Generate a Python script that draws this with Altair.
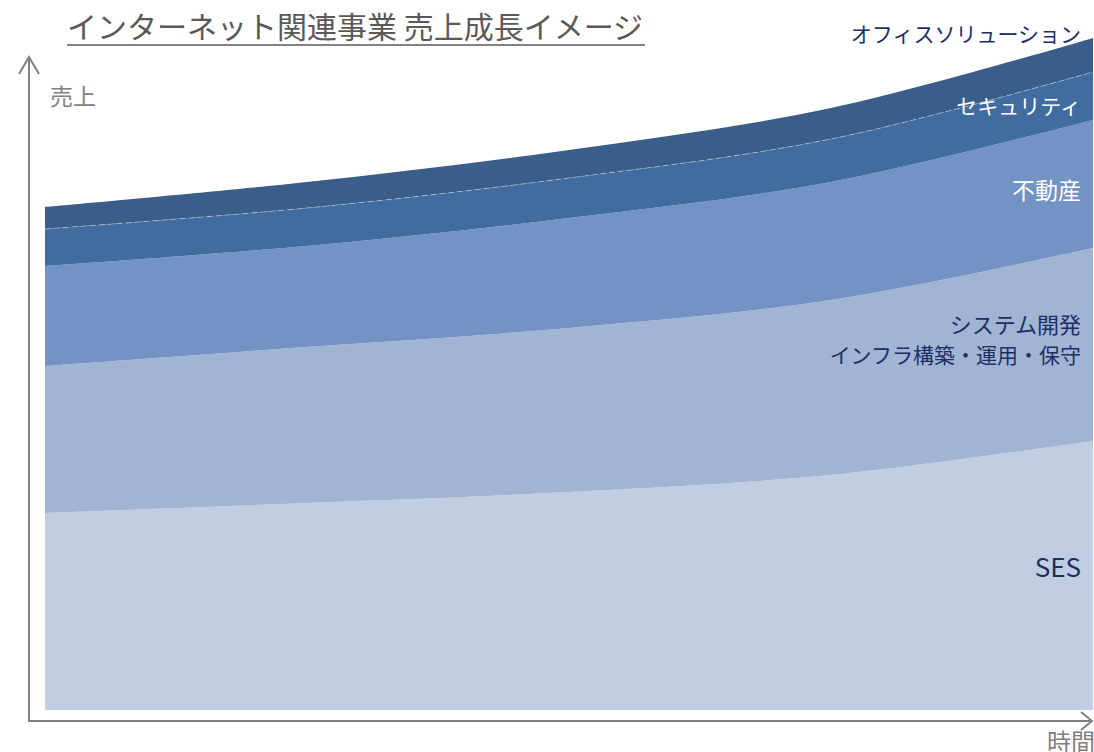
import altair as alt
import pandas as pd

# time points (equally spaced periods)
periods = [0, 1, 2, 3, 4]

# layer thickness (sales, arbitrary units) bottom -> top
segments = ["SES", "システム開発", "不動産", "セキュリティ", "オフィスソリューション"]
ses = [197, 207, 218, 235, 269]
sysdev = [147, 156, 164, 175, 193]
realestate = [100, 101, 110, 118, 128]
security = [37, 38, 40, 43, 48]
office = [22, 26, 28, 31, 34]
colors = ["#C1CDE1", "#A1B4D4", "#7393C4", "#416C9F", "#3A5D8A"]

series = [ses, sysdev, realestate, security, office]
rows = []
for k, (name, vals) in enumerate(zip(segments, series)):
    for p, v in zip(periods, vals):
        rows.append({"period": p, "segment": name, "value": v, "k": k})
df = pd.DataFrame(rows)

# boundary above security layer (faint separator)
sep = pd.DataFrame({
    "period": periods,
    "top": [a + b + c + d for a, b, c, d in zip(ses, sysdev, realestate, security)],
})

W, H = 1048, 672
xs = alt.Scale(domain=[0, 4], nice=False)
ys = alt.Scale(domain=[0, 672], nice=False)
INTERP = "catmull-rom"

area = alt.Chart(df).mark_area(interpolate=INTERP).encode(
    x=alt.X("period:Q", scale=xs, axis=None),
    y=alt.Y("value:Q", stack="zero", scale=ys, axis=None),
    color=alt.Color("segment:N", scale=alt.Scale(domain=segments, range=colors), legend=None),
    order=alt.Order("k:Q"),
)

sepline = alt.Chart(sep).mark_line(
    interpolate=INTERP, color="white", strokeWidth=1, opacity=0.4, strokeDash=[6, 3]
).encode(
    x=alt.X("period:Q", scale=xs, axis=None),
    y=alt.Y("top:Q", scale=ys, axis=None),
)

AX = "#808080"
NAVY = "#1B2F66"
FONT = "Noto Sans CJK JP"

yaxis = alt.Chart().mark_rule(color=AX, strokeWidth=2).encode(
    x=alt.value(-16), y=alt.value(20), y2=alt.value(683))
xaxis = alt.Chart().mark_rule(color=AX, strokeWidth=2).encode(
    x=alt.value(-17), x2=alt.value(1047), y=alt.value(683))
uparrow = alt.Chart().mark_point(
    shape="M-1,1.7L0,0L1,1.7", size=400, filled=False, color=AX, strokeWidth=2, opacity=1
).encode(x=alt.value(-16), y=alt.value(19))
rightarrow = alt.Chart().mark_point(
    shape="M-1.1,-0.9L0,0L-1.1,0.9", size=400, filled=False, color=AX, strokeWidth=2, opacity=1
).encode(x=alt.value(1047), y=alt.value(683))

def txt(s, x, y, size, color, align="right"):
    return alt.Chart().mark_text(
        text=s, align=align, baseline="middle", font=FONT, fontSize=size, color=color
    ).encode(x=alt.value(x), y=alt.value(y))

title = txt("インターネット関連事業 売上成長イメージ", 22, -9, 30, "#595959", "left")
underline = alt.Chart().mark_rule(color="#595959", strokeWidth=1.5).encode(
    x=alt.value(22), x2=alt.value(600), y=alt.value(7))

labels = [
    txt("売上", 5, 60, 23, AX, "left"),
    txt("時間", 1002, 706, 24, AX, "left"),
    txt("オフィスソリューション", 1036, -2, 21, NAVY),
    txt("セキュリティ", 1036, 70, 21, "white"),
    txt("不動産", 1036, 154, 23, "white"),
    txt("システム開発", 1036, 288, 22, NAVY),
    txt("インフラ構築・運用・保守", 1036, 319, 21, NAVY),
    txt("SES", 1036, 531, 26, NAVY),
]

chart = alt.layer(
    area, sepline, yaxis, xaxis, uparrow, rightarrow, title, underline, *labels
).properties(
    width=W, height=H,
    padding={"left": 45, "top": 38, "right": 1, "bottom": 42},
    autosize=alt.AutoSizeParams(type="none"),
    background="white",
).configure_view(stroke=None)

chart.save("out.html", embed_options={"renderer": "svg", "actions": False})
